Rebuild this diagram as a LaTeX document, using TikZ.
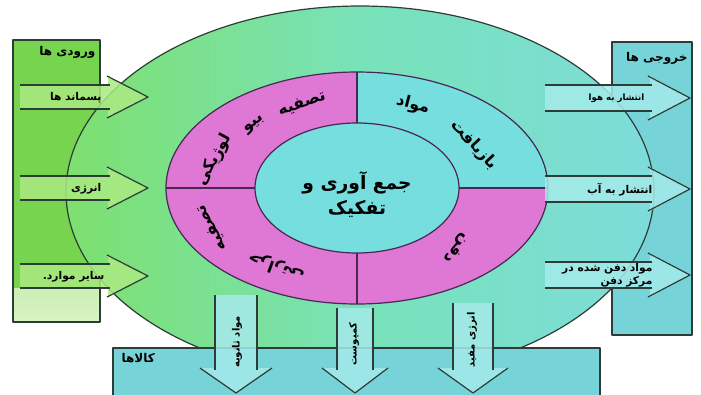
\documentclass[tikz,border=0pt]{standalone}
\usepackage{fontspec}
\newfontfamily\fa[Script=Arabic]{DejaVu Sans}
\TeXXeTstate=1
\newcommand{\rtltxt}[1]{\beginR #1\endR}
\definecolor{linec}{RGB}{45,60,55}
\definecolor{ringc}{RGB}{70,40,80}
\definecolor{gbox}{RGB}{118,212,78}
\definecolor{gboxlight}{RGB}{215,243,195}
\definecolor{gell}{RGB}{125,224,110}
\definecolor{mell}{RGB}{120,226,185}
\definecolor{cell}{RGB}{125,220,218}
\definecolor{mag}{RGB}{222,120,212}
\definecolor{cyin}{RGB}{118,222,222}
\definecolor{cbox}{RGB}{118,212,216}
\definecolor{garrow}{RGB}{170,234,130}
\definecolor{carrow}{RGB}{165,234,234}
\begin{document}
\begin{tikzpicture}[x=0.75pt,y=-0.75pt,line join=round,
  ln/.style={draw=linec,line width=0.9pt},
  rl/.style={draw=ringc,line width=0.9pt},
  thk/.style={draw=linec,line width=1.3pt},
  fatxt/.style={font=\fa\bfseries\fontsize{8}{9.5}\selectfont,inner sep=1pt,text=black},
  smtxt/.style={font=\fa\bfseries\fontsize{6.5}{8}\selectfont,inner sep=1pt,text=black},
  ringtxt/.style={font=\fa\bfseries\fontsize{12}{14}\selectfont,inner sep=1pt,text=black},
  ttl/.style={font=\fa\bfseries\fontsize{9}{10}\selectfont,inner sep=1pt,text=black}]
\useasboundingbox (0,0) rectangle (701,394);
\fill[white] (0,0) rectangle (701,394);

% side boxes (behind the big ellipse)
\shade[top color=gbox,bottom color=gboxlight] (13,40) rectangle (100,322);
\fill[gbox] (13,40) rectangle (100,288);
\draw[thk] (13,40) rectangle (100,322);
\fill[cbox] (612,42) rectangle (692,335);
\draw[thk] (612,42) rectangle (692,335);

% big ellipse
\shade[left color=gell,right color=cell,middle color=mell] (360,192) ellipse [x radius=294,y radius=186];
\draw[ln] (360,192) ellipse [x radius=294,y radius=186];

% bottom box
\fill[cbox] (113,348) rectangle (600,396);
\draw[thk] (113,396) -- (113,348) -- (600,348) -- (600,396);

% ring
\fill[mag] (357,188) ellipse [x radius=191,y radius=116];
\begin{scope}
  \clip (357,188) rectangle (560,60);
  \fill[cyin] (357,188) ellipse [x radius=191,y radius=116];
\end{scope}
\draw[rl] (357,188) ellipse [x radius=191,y radius=116];
\fill[cyin] (357,188) ellipse [x radius=102,y radius=65];
\draw[rl] (357,188) ellipse [x radius=102,y radius=65];
\draw[rl] (357,72) -- (357,123);
\draw[rl] (357,253) -- (357,304);
\draw[rl] (166,188) -- (255,188);
\draw[rl] (459,188) -- (548,188);

% centre text
\node[font=\fa\bfseries\fontsize{14}{17}\selectfont,text=black,inner sep=0pt] (c1) at (357,183) {\rtltxt{جمع آوری و}};
\node[font=\fa\bfseries\fontsize{14}{17}\selectfont,text=black,inner sep=0pt] (c2) at (357,209) {\rtltxt{تفکیک}};

% ring texts
\node[ringtxt,rotate=20] (t1) at (302,104) {\rtltxt{تصفیه}};
\node[ringtxt,rotate=40] (t2) at (255,125) {\rtltxt{بیو}};
\node[ringtxt,rotate=62] (t3) at (214,160) {\rtltxt{لوژیکی}};
\node[ringtxt,rotate=-15] (r1) at (413,105) {\rtltxt{مواد}};
\node[ringtxt,rotate=-47] (r2) at (474,145) {\rtltxt{بازیافت}};
\node[ringtxt,rotate=118] (b1) at (212,228) {\rtltxt{تصفیه}};
\node[ringtxt,rotate=160] (b2) at (276,267) {\rtltxt{حرارتی}};
\node[ringtxt,rotate=-130] (d1) at (456,248) {\rtltxt{دفن}};

% input arrows
\foreach \yy in {97,188,276}{
  \fill[garrow,fill opacity=0.85] (20,\yy-12) -- (108,\yy-12) -- (108,\yy-21) -- (148,\yy) -- (108,\yy+21) -- (108,\yy+12) -- (20,\yy+12) -- cycle;
  \draw[ln] (20,\yy-12) -- (110,\yy-12);
  \draw[ln] (20,\yy+12) -- (110,\yy+12);
  \draw[ln] (107,\yy-21) -- (148,\yy) -- (107,\yy+21);
}
% output arrows
\foreach \yy in {98,189,275}{
  \fill[carrow,fill opacity=0.85] (545,\yy-13) -- (650,\yy-13) -- (650,\yy-22) -- (690,\yy) -- (650,\yy+22) -- (650,\yy+13) -- (545,\yy+13) -- cycle;
  \draw[ln] (545,\yy-13) -- (652,\yy-13);
  \draw[ln] (545,\yy+13) -- (652,\yy+13);
  \draw[ln] (648,\yy-22) -- (690,\yy) -- (648,\yy+22);
}
% down arrows
\foreach \xa/\xb/\ys in {215/257/295,337/373/308,453/493/303}{
  \fill[carrow,fill opacity=0.85] (\xa,\ys) -- (\xa,368) -- (\xa-15,368) -- ({(\xa+\xb)/2},393) -- (\xb+15,368) -- (\xb,368) -- (\xb,\ys) -- cycle;
  \draw[ln] (\xa,\ys) -- (\xa,370);
  \draw[ln] (\xb,\ys) -- (\xb,370);
  \draw[ln] (\xa-15,368) -- ({(\xa+\xb)/2},393) -- (\xb+15,368);
}

% titles
\node[ttl,anchor=east] (in) at (97,52) {\rtltxt{ورودی ها}};
\node[ttl,anchor=east] (out) at (689,58) {\rtltxt{خروجی ها}};
\node[ttl,anchor=west] (goods) at (120,358) {\rtltxt{کالاها}};

% arrow labels
\node[fatxt,anchor=east] (l1) at (103,98) {\rtltxt{پسماند ها}};
\node[fatxt,anchor=east] (l2) at (103,189) {\rtltxt{انرژی}};
\node[fatxt,anchor=east] (l3) at (106,277) {\rtltxt{سایر موارد.}};
\node[smtxt,anchor=east] (o1) at (646,98) {\rtltxt{انتشار به هوا}};
\node[fatxt,anchor=east] (o2) at (654,190) {\rtltxt{انتشار به آب}};
\node[fatxt,anchor=east,align=right] (o3) at (654,275) {\rtltxt{مواد دفن شده در}\\\rtltxt{مرکز دفن}};
\node[smtxt,font=\fa\bfseries\fontsize{7.5}{9}\selectfont,rotate=90] (d1l) at (237,342) {\rtltxt{مواد ثانویه}};
\node[smtxt,font=\fa\bfseries\fontsize{7.5}{9}\selectfont,rotate=90] (d2l) at (354,344) {\rtltxt{کمپوست}};
\node[smtxt,font=\fa\bfseries\fontsize{7.5}{9}\selectfont,rotate=90] (d3l) at (472,340) {\rtltxt{انرژی مفید}};
\end{tikzpicture}
\end{document}
